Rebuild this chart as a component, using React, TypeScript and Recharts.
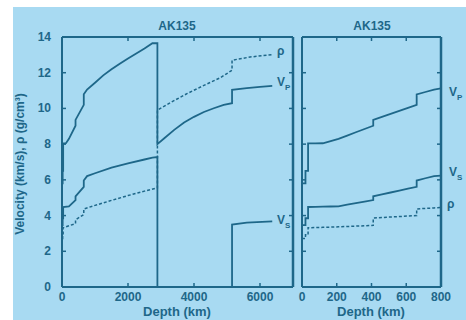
import React from 'react';
import { LineChart, Line, XAxis, YAxis } from 'recharts';

// ---------- data (AK135 model) ----------
// Whole-Earth panel
const earthVpDepth = [0, 20, 20, 35, 35, 120, 210, 410, 410, 660, 660, 760, 1000, 1250, 1500, 1750, 2000, 2250, 2500, 2740, 2891, 2891, 3100, 3400, 3700, 4000, 4300, 4600, 4900, 5153, 5153, 5600, 6000, 6371];
const earthVp = [5.8, 5.8, 6.5, 6.5, 8.04, 8.05, 8.3, 9.03, 9.36, 10.2, 10.79, 11.06, 11.44, 11.85, 12.19, 12.5, 12.8, 13.08, 13.36, 13.65, 13.66, 8.0, 8.33, 8.8, 9.21, 9.53, 9.8, 10.01, 10.2, 10.29, 11.04, 11.14, 11.21, 11.26];

const earthVsDepth = [0, 20, 20, 35, 35, 210, 410, 410, 660, 660, 760, 1000, 1500, 2000, 2500, 2740, 2891, 2891, 5153, 5153, 5600, 6371];
const earthVs = [3.46, 3.46, 3.85, 3.85, 4.48, 4.52, 4.87, 5.08, 5.61, 5.96, 6.21, 6.37, 6.68, 6.92, 7.14, 7.25, 7.28, 0, 0, 3.5, 3.6, 3.67];

const earthRhoDepth = [0, 20, 20, 35, 35, 210, 410, 410, 660, 660, 1000, 1500, 2000, 2500, 2891, 2891, 3300, 3800, 4300, 4800, 5153, 5153, 5700, 6371];
const earthRho = [2.72, 2.72, 2.92, 2.92, 3.32, 3.43, 3.55, 3.76, 4.06, 4.37, 4.57, 4.85, 5.12, 5.37, 5.55, 9.91, 10.34, 10.84, 11.29, 11.72, 12.14, 12.7, 12.88, 13.01];

// Upper-mantle panel
const upperVpDepth = [0, 20, 20, 35, 35, 77.5, 120, 165, 210, 260, 310, 360, 410, 410, 460, 510, 560, 610, 660, 660, 710, 760, 800];
const upperVp = [5.8, 5.8, 6.5, 6.5, 8.04, 8.045, 8.05, 8.175, 8.3, 8.48, 8.665, 8.848, 9.03, 9.36, 9.528, 9.696, 9.864, 10.032, 10.2, 10.79, 10.92, 11.055, 11.12];

const upperVsDepth = [0, 20, 20, 35, 35, 77.5, 120, 165, 210, 260, 310, 360, 410, 410, 460, 510, 560, 610, 660, 660, 710, 760, 800];
const upperVs = [3.46, 3.46, 3.85, 3.85, 4.48, 4.49, 4.5, 4.509, 4.518, 4.609, 4.696, 4.783, 4.87, 5.081, 5.186, 5.292, 5.399, 5.505, 5.61, 5.961, 6.09, 6.21, 6.24];

const upperRhoDepth = [0, 20, 20, 35, 35, 120, 210, 310, 410, 410, 510, 660, 660, 760, 800];
const upperRho = [2.72, 2.72, 2.92, 2.92, 3.32, 3.34, 3.37, 3.41, 3.45, 3.86, 3.92, 4.0, 4.37, 4.43, 4.45];

// Axes / ticks
const velTicks = [0, 2, 4, 6, 8, 10, 12, 14];
const earthDepthTicks = [0, 2000, 4000, 6000];
const upperDepthTicks = [0, 200, 400, 600, 800];
const earthInnerTicks = [2000, 4000, 6000];
const upperInnerTicks = [200, 400, 600];
const panelTitles = ['AK135', 'AK135'];

const zip = (d: number[], v: number[]) => d.map((depth, i) => ({ depth, v: v[i] }));

// ---------- styling ----------
const BG = '#a8daf2';
const INK = '#1e6789';
const FONT = '"Liberation Sans", Arial, sans-serif';

const TickLeftLabeled = (props: any) => {
  const { x, y, payload } = props;
  return (
    <g>
      <line x1={x} x2={x + 4} y1={y} y2={y} stroke={INK} strokeWidth={1.5} />
      <text x={x - 11} y={y} dy={4} textAnchor="end" fill={INK} fontSize={12} fontWeight="bold" fontFamily={FONT}>
        {payload.value}
      </text>
    </g>
  );
};
const TickLeftBare = (props: any) => {
  const { x, y } = props;
  return <line x1={x} x2={x + 4} y1={y} y2={y} stroke={INK} strokeWidth={1.5} />;
};
const TickRightBare = (props: any) => {
  const { x, y } = props;
  return <line x1={x} x2={x - 4} y1={y} y2={y} stroke={INK} strokeWidth={1.5} />;
};
const TickTopBare = (props: any) => {
  const { x, y } = props;
  return <line x1={x} x2={x} y1={y} y2={y + 4} stroke={INK} strokeWidth={1.5} />;
};
const TickBottomLabeled = (props: any) => {
  const { x, y, payload } = props;
  return (
    <g>
      <line x1={x} x2={x} y1={y} y2={y - 4} stroke={INK} strokeWidth={1.5} />
      <text x={x} y={y + 14} textAnchor="middle" fill={INK} fontSize={12} fontWeight="bold" fontFamily={FONT}>
        {payload.value}
      </text>
    </g>
  );
};

const textStyle: React.CSSProperties = {
  position: 'absolute',
  color: INK,
  fontFamily: FONT,
  fontWeight: 'bold',
  fontSize: 12,
  lineHeight: '12px',
  whiteSpace: 'nowrap',
};

const SeriesLabel = ({ x, y, main, sub }: { x: number; y: number; main: string; sub?: string }) => (
  <div style={{ ...textStyle, left: x, top: y }}>
    {main}
    {sub ? <span style={{ fontSize: 8, position: 'relative', top: 4 }}>{sub}</span> : null}
  </div>
);

interface PanelProps {
  left: number;
  right: number;
  domainMax: number;
  labelTicks: number[];
  innerTicks: number[];
  vp: { depth: number; v: number }[];
  vs: { depth: number; v: number }[];
  rho: { depth: number; v: number }[];
  labelledY: boolean;
}

const Panel = ({ left, right, domainMax, labelTicks, innerTicks, vp, vs, rho, labelledY }: PanelProps) => (
  <div style={{ position: 'absolute', left: 0, top: 0 }}>
    <LineChart width={466} height={320} margin={{ top: 36, bottom: 32, left: left - 1, right: right - 1 }}>
      <XAxis
        dataKey="depth"
        type="number"
        domain={[0, domainMax]}
        ticks={labelTicks}
        interval={0}
        height={1}
        tickSize={0}
        tickMargin={0}
        tickLine={false}
        axisLine={{ stroke: INK, strokeWidth: 2 }}
        tick={<TickBottomLabeled />}
        allowDataOverflow
      />
      <XAxis
        xAxisId="top"
        orientation="top"
        dataKey="depth"
        type="number"
        domain={[0, domainMax]}
        ticks={innerTicks}
        interval={0}
        height={1}
        tickSize={0}
        tickMargin={0}
        tickLine={false}
        axisLine={{ stroke: INK, strokeWidth: 2 }}
        tick={<TickTopBare />}
        allowDataOverflow
      />
      <YAxis
        type="number"
        domain={[0, 14]}
        ticks={velTicks}
        interval={0}
        width={1}
        tickSize={0}
        tickMargin={0}
        tickLine={false}
        axisLine={{ stroke: INK, strokeWidth: 2 }}
        tick={labelledY ? <TickLeftLabeled /> : <TickLeftBare />}
        allowDataOverflow
      />
      <YAxis
        yAxisId="right"
        orientation="right"
        type="number"
        domain={[0, 14]}
        ticks={velTicks}
        interval={0}
        width={1}
        tickSize={0}
        tickMargin={0}
        tickLine={false}
        axisLine={{ stroke: INK, strokeWidth: 2.5 }}
        tick={<TickRightBare />}
        allowDataOverflow
      />
      <Line data={rho} dataKey="v" type="linear" stroke={INK} strokeWidth={1.5} strokeDasharray="3 2" dot={false} isAnimationActive={false} />
      <Line data={vs} dataKey="v" type="linear" stroke={INK} strokeWidth={1.8} dot={false} isAnimationActive={false} />
      <Line data={vp} dataKey="v" type="linear" stroke={INK} strokeWidth={1.8} dot={false} isAnimationActive={false} />
    </LineChart>
  </div>
);

export default function App() {
  return (
    <div style={{ position: 'absolute', left: 0, top: 0, width: 466, height: 320, background: '#ffffff', overflow: 'hidden' }}>
      <div style={{ position: 'absolute', left: 13, top: 7, width: 453, height: 313, background: BG }} />
      <Panel
        left={62}
        right={173}
        domainMax={7000}
        labelTicks={earthDepthTicks}
        innerTicks={earthInnerTicks}
        vp={zip(earthVpDepth, earthVp)}
        vs={zip(earthVsDepth, earthVs)}
        rho={zip(earthRhoDepth, earthRho)}
        labelledY
      />
      <Panel
        left={302}
        right={25}
        domainMax={800}
        labelTicks={upperDepthTicks}
        innerTicks={upperInnerTicks}
        vp={zip(upperVpDepth, upperVp)}
        vs={zip(upperVsDepth, upperVs)}
        rho={zip(upperRhoDepth, upperRho)}
        labelledY={false}
      />
      {/* titles */}
      <div style={{ ...textStyle, left: 157, top: 20, width: 40, textAlign: 'center' }}>{panelTitles[0]}</div>
      <div style={{ ...textStyle, left: 352, top: 20, width: 40, textAlign: 'center' }}>{panelTitles[1]}</div>
      {/* axis titles */}
      <div style={{ ...textStyle, fontSize: 13, left: 127, top: 306, width: 100, textAlign: 'center' }}>Depth (km)</div>
      <div style={{ ...textStyle, fontSize: 13, left: 321, top: 306, width: 100, textAlign: 'center' }}>Depth (km)</div>
      <div
        style={{
          ...textStyle,
          left: 20,
          top: 164,
          width: 200,
          textAlign: 'center',
          transform: 'translate(-50%, -50%) rotate(-90deg)',
          transformOrigin: 'center',
        }}
      >
        Velocity (km/s), ρ (g/cm³)
      </div>
      {/* series labels */}
      <SeriesLabel x={277} y={45} main="ρ" />
      <SeriesLabel x={277} y={76} main="V" sub="P" />
      <SeriesLabel x={277} y={214} main="V" sub="S" />
      <SeriesLabel x={449} y={86} main="V" sub="P" />
      <SeriesLabel x={449} y={166} main="V" sub="S" />
      <SeriesLabel x={447} y={198} main="ρ" />
    </div>
  );
}
